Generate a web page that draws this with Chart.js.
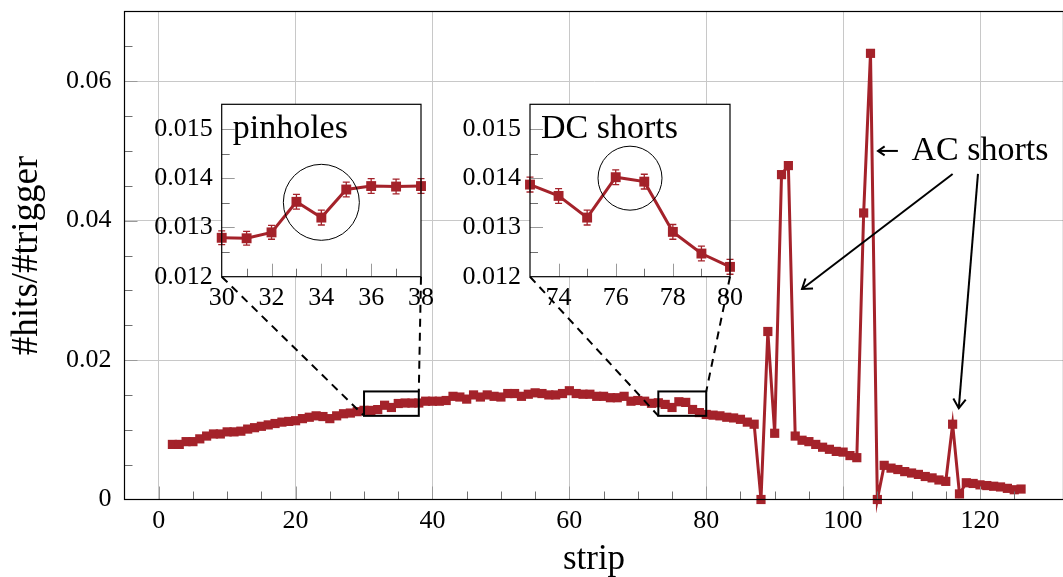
<!DOCTYPE html>
<html>
<head>
<meta charset="utf-8">
<script src="https://cdn.jsdelivr.net/npm/chart.js@4.4.1/dist/chart.umd.min.js"></script>
<style>
  html, body { margin: 0; padding: 0; background: #fff; overflow: hidden; }
  #wrap { position: relative; width: 1063px; height: 577px; overflow: hidden; }
  #wrap canvas { position: absolute; left: 0; top: 0; }
</style>
</head>
<body>
<div id="wrap">
  <canvas id="main" width="1070" height="577"></canvas>
  <canvas id="pin" width="1063" height="577"></canvas>
  <canvas id="dc" width="1063" height="577"></canvas>
</div>
<script>
// strip number and hit rate per trigger
const strips = [
  2, 3, 4, 5, 6, 7, 8, 9, 10, 11, 12, 13, 14, 15, 16, 17, 18, 19, 20, 21,
  22, 23, 24, 25, 26, 27, 28, 29, 30, 31, 32, 33, 34, 35, 36, 37, 38, 39, 40, 41,
  42, 43, 44, 45, 46, 47, 48, 49, 50, 51, 52, 53, 54, 55, 56, 57, 58, 59, 60, 61,
  62, 63, 64, 65, 66, 67, 68, 69, 70, 71, 72, 73, 74, 75, 76, 77, 78, 79, 80, 81,
  82, 83, 84, 85, 86, 87, 88, 89, 90, 91, 92, 93, 94, 95, 96, 97, 98, 99, 100, 101,
  102, 103, 104, 105, 106, 107, 108, 109, 110, 111, 112, 113, 114, 115, 116, 117, 118, 119, 120, 121,
  122, 123, 124, 125, 126
];
const hits = [
  0.0079, 0.0079, 0.0083, 0.0083, 0.0087, 0.0091, 0.0094, 0.0094, 0.0097, 0.0097,
  0.0098, 0.0101, 0.0103, 0.0105, 0.0107, 0.0109, 0.0111, 0.0112, 0.0113, 0.0116,
  0.0118, 0.0120, 0.0119, 0.0116, 0.0120, 0.0123, 0.0124, 0.0126, 0.01279, 0.01278,
  0.01290, 0.01352, 0.01320, 0.01377, 0.01384, 0.01383, 0.01384, 0.0141, 0.0141, 0.0141,
  0.0142, 0.0148, 0.0147, 0.0144, 0.0150, 0.0147, 0.0150, 0.0148, 0.0147, 0.0152,
  0.0152, 0.0148, 0.0151, 0.0153, 0.0152, 0.0150, 0.0150, 0.0152, 0.0156, 0.0152,
  0.0151, 0.0151, 0.0148, 0.0148, 0.0146, 0.0146, 0.0148, 0.0141, 0.0142, 0.0141,
  0.0138, 0.01387, 0.01364, 0.01320, 0.01402, 0.01393, 0.01291, 0.01247, 0.01220, 0.0121,
  0.0120, 0.0118, 0.0117, 0.0115, 0.0111, 0.0108, 0, 0.0241, 0.0095, 0.0466,
  0.0479, 0.0091, 0.0085, 0.0083, 0.0079, 0.0075, 0.0072, 0.0069, 0.0068, 0.0063,
  0.0060, 0.0411, 0.0640, 0, 0.0049, 0.0045, 0.0043, 0.0040, 0.0038, 0.0036,
  0.0033, 0.0031, 0.0028, 0.0026, 0.0108, 0.0008, 0.0024, 0.0023, 0.0021, 0.0020,
  0.0019, 0.0018, 0.0016, 0.0014, 0.0015
];

// labelled ticks
const xTicksMain = [0, 20, 40, 60, 80, 100, 120];
const yTicksMain = [0, 0.02, 0.04, 0.06];
const yTicksInset = [0.012, 0.013, 0.014, 0.015];
const xTicksPin = [30, 32, 34, 36, 38];
const xTicksDC = [74, 76, 78, 80];

// zoomed ranges
const pinRangeX = [30, 38];
const dcRangeX = [73, 80];
const zoomRangeY = [0.012, 0.0155];

// error bars seen in the insets
const pinErr = [0.00014, 0.00014, 0.00014, 0.00015, 0.00015, 0.00015, 0.00015, 0.00015, 0.00015];
const dcErr = [0.00015, 0.00015, 0.00015, 0.00015, 0.00015, 0.00015, 0.00015, 0.00015];

// annotations
const pinCircle = { x: 34, y: 0.01351, r: 38 };
const dcCircle = { x: 76.5, y: 0.0140, r: 32 };
const acLabel = { x: 110, y: 0.05, text: 'AC shorts' };
const acSmallArrow = [108, 0.05, 105.1, 0.05];
const acArrows = [
  [116, 0.0467, 94, 0.0302],
  [119.7, 0.0467, 116.9, 0.0131]
];

const RED = '#a4222a';
const GRID = '#c8c8c8';
const FONT = "'Liberation Serif', 'Times New Roman', serif";

function isMajor(list, v) {
  return list.some(m => Math.abs(m - v) < 1e-9);
}

function drawArrow(ctx, x1, y1, x2, y2, head) {
  const ang = Math.atan2(y2 - y1, x2 - x1);
  ctx.beginPath();
  ctx.moveTo(x1, y1);
  ctx.lineTo(x2, y2);
  ctx.stroke();
  ctx.beginPath();
  ctx.moveTo(x2 - head * Math.cos(ang - 0.6), y2 - head * Math.sin(ang - 0.6));
  ctx.lineTo(x2, y2);
  ctx.lineTo(x2 - head * Math.cos(ang + 0.6), y2 - head * Math.sin(ang + 0.6));
  ctx.stroke();
}

// frame plus inward tick marks (major grey, minor dark)
function drawFrame(chart, xMajors, yMajors) {
  const { ctx, chartArea: a, scales: { x, y } } = chart;
  ctx.save();
  ctx.lineWidth = 1;
  x.ticks.forEach(t => {
    const px = Math.round(x.getPixelForValue(t.value)) + 0.5;
    if (px <= a.left + 1 || px >= a.right - 1) return;
    const major = isMajor(xMajors, t.value);
    ctx.strokeStyle = major ? '#9a9a9a' : '#707070';
    ctx.beginPath();
    ctx.moveTo(px, a.bottom);
    ctx.lineTo(px, a.bottom - (major ? 13 : 8));
    ctx.stroke();
  });
  y.ticks.forEach(t => {
    const py = Math.round(y.getPixelForValue(t.value)) + 0.5;
    if (py <= a.top + 1 || py >= a.bottom - 1) return;
    const major = isMajor(yMajors, t.value);
    ctx.strokeStyle = major ? '#9a9a9a' : '#707070';
    ctx.beginPath();
    ctx.moveTo(a.left, py);
    ctx.lineTo(a.left + (major ? 13 : 8), py);
    ctx.stroke();
  });
  ctx.strokeStyle = '#000';
  ctx.lineWidth = 1.2;
  ctx.strokeRect(a.left, a.top, a.right - a.left, a.bottom - a.top);
  ctx.restore();
}

const mainDecor = {
  id: 'mainDecor',
  afterDatasetsDraw(chart) {
    const { ctx, scales: { x, y } } = chart;
    ctx.save();
    // zoom boxes
    ctx.strokeStyle = '#000';
    ctx.lineWidth = 2;
    [pinRangeX, dcRangeX].forEach(r => {
      const x1 = x.getPixelForValue(r[0]), x2 = x.getPixelForValue(r[1]);
      const y1 = y.getPixelForValue(zoomRangeY[1]), y2 = y.getPixelForValue(zoomRangeY[0]);
      ctx.strokeRect(x1, y1, x2 - x1, y2 - y1);
    });
    // AC shorts
    ctx.lineWidth = 2;
    acArrows.forEach(a => drawArrow(ctx, x.getPixelForValue(a[0]), y.getPixelForValue(a[1]),
      x.getPixelForValue(a[2]), y.getPixelForValue(a[3]), 11));
    drawArrow(ctx, x.getPixelForValue(acSmallArrow[0]), y.getPixelForValue(acSmallArrow[1]),
      x.getPixelForValue(acSmallArrow[2]), y.getPixelForValue(acSmallArrow[3]), 8);
    ctx.fillStyle = '#000';
    ctx.font = '34px ' + FONT;
    ctx.textAlign = 'left';
    ctx.textBaseline = 'middle';
    ctx.fillText(acLabel.text, x.getPixelForValue(acLabel.x), y.getPixelForValue(acLabel.y));
    ctx.restore();
  },
  afterDraw(chart) {
    drawFrame(chart, xTicksMain, yTicksMain);
  }
};

const mainChart = new Chart(document.getElementById('main'), {
  type: 'line',
  data: {
    datasets: [{
      data: strips.map((s, i) => ({ x: s, y: hits[i] })),
      borderColor: RED,
      backgroundColor: RED,
      borderWidth: 3,
      pointStyle: 'rect',
      pointRadius: 6.5,
      pointHoverRadius: 6.5,
      pointBorderWidth: 0,
      tension: 0,
      clip: false
    }]
  },
  options: {
    responsive: false,
    animation: false,
    events: [],
    layout: { padding: { left: 0, top: 11.5, right: 6, bottom: 0 } },
    plugins: { legend: { display: false }, tooltip: { enabled: false } },
    scales: {
      x: {
        type: 'linear', min: -5, max: 132.2,
        afterBuildTicks: s => { s.ticks = s.ticks.filter(t => t.value >= 0 && t.value % 5 === 0); },
        afterFit: s => { s.height = 77.5; s.paddingLeft = 0; s.paddingRight = 0; },
        ticks: {
          stepSize: 5, autoSkip: false, maxRotation: 0, padding: 6, color: '#000',
          font: { family: FONT, size: 26 },
          callback: v => isMajor(xTicksMain, v) ? String(v) : ''
        },
        grid: { drawTicks: false, lineWidth: 1, color: c => isMajor(xTicksMain, c.tick.value) ? GRID : 'rgba(0,0,0,0)' },
        border: { display: false },
        title: { display: true, text: 'strip', color: '#000', font: { family: FONT, size: 35 }, padding: { top: 0, bottom: -4 } }
      },
      y: {
        type: 'linear', min: 0, max: 0.07,
        afterFit: s => { s.width = 124.5; s.paddingTop = 0; s.paddingBottom = 0; },
        ticks: {
          stepSize: 0.005, autoSkip: false, padding: 13, color: '#000',
          font: { family: FONT, size: 26 },
          callback: v => isMajor(yTicksMain, v) ? (v === 0 ? '0' : v.toFixed(2)) : ''
        },
        grid: { drawTicks: false, lineWidth: 1, color: c => isMajor(yTicksMain, c.tick.value) ? GRID : 'rgba(0,0,0,0)' },
        border: { display: false },
        title: { display: true, text: '#hits/#trigger', color: '#000', font: { family: FONT, size: 37 }, padding: { top: 5, bottom: 0 } }
      }
    }
  },
  plugins: [mainDecor]
});

function makeInset(id, rangeX, xMajors, err, circle, label, left, right) {
  const pts = [];
  strips.forEach((s, i) => { if (s >= rangeX[0] && s <= rangeX[1]) pts.push({ x: s, y: hits[i] }); });
  const yW = 90, xH = 40, top = 104.3, bottom = 276.7;

  const decor = {
    id: 'insetDecor',
    beforeDraw(chart) {
      const { ctx, chartArea: a } = chart;
      ctx.save();
      ctx.fillStyle = '#fff';
      ctx.fillRect(a.left, a.top, a.right - a.left, a.bottom - a.top);
      ctx.restore();
    },
    afterDatasetsDraw(chart) {
      const { ctx, scales: { x, y } } = chart;
      ctx.save();
      ctx.strokeStyle = RED;
      ctx.lineWidth = 1.3;
      pts.forEach((p, i) => {
        const px = x.getPixelForValue(p.x);
        const y1 = y.getPixelForValue(p.y - err[i]), y2 = y.getPixelForValue(p.y + err[i]);
        ctx.beginPath();
        ctx.moveTo(px, y1); ctx.lineTo(px, y2);
        ctx.moveTo(px - 3.5, y1); ctx.lineTo(px + 3.5, y1);
        ctx.moveTo(px - 3.5, y2); ctx.lineTo(px + 3.5, y2);
        ctx.stroke();
      });
      ctx.restore();
    },
    afterDraw(chart) {
      const { ctx, chartArea: a, scales: { x, y } } = chart;
      drawFrame(chart, xMajors, yTicksInset);
      ctx.save();
      // circle marking the feature
      ctx.strokeStyle = '#000';
      ctx.lineWidth = 1;
      ctx.beginPath();
      ctx.arc(x.getPixelForValue(circle.x), y.getPixelForValue(circle.y), circle.r, 0, Math.PI * 2);
      ctx.stroke();
      // title
      ctx.fillStyle = '#000';
      ctx.font = '34px ' + FONT;
      ctx.textAlign = 'left';
      ctx.textBaseline = 'middle';
      ctx.fillText(label, a.left + 11, a.top + 25);
      // dashed connectors to the zoom box
      const mx = mainChart.scales.x, my = mainChart.scales.y;
      ctx.lineWidth = 2;
      ctx.setLineDash([8, 6]);
      ctx.beginPath();
      ctx.moveTo(a.left, a.bottom);
      ctx.lineTo(mx.getPixelForValue(rangeX[0]), my.getPixelForValue(zoomRangeY[0]));
      ctx.moveTo(a.right, a.bottom);
      ctx.lineTo(mx.getPixelForValue(rangeX[1]), my.getPixelForValue(zoomRangeY[1]));
      ctx.stroke();
      ctx.restore();
    }
  };

  return new Chart(document.getElementById(id), {
    type: 'line',
    data: {
      datasets: [{
        data: pts,
        borderColor: RED,
        backgroundColor: RED,
        borderWidth: 3,
        pointStyle: 'rect',
        pointRadius: 7,
        pointHoverRadius: 7,
        pointBorderWidth: 0,
        tension: 0,
        clip: false
      }]
    },
    options: {
      responsive: false,
      animation: false,
      events: [],
      layout: { padding: { left: left - yW, top: top, right: 1063 - right, bottom: 577 - bottom - xH } },
      plugins: { legend: { display: false }, tooltip: { enabled: false } },
      scales: {
        x: {
          type: 'linear', min: rangeX[0], max: rangeX[1],
          afterFit: s => { s.height = xH; s.paddingLeft = 0; s.paddingRight = 0; },
          ticks: {
            stepSize: 1, autoSkip: false, maxRotation: 0, padding: 6, color: '#000',
            font: { family: FONT, size: 26 },
            callback: v => isMajor(xMajors, v) ? String(v) : ''
          },
          grid: { display: false, drawTicks: false },
          border: { display: false }
        },
        y: {
          type: 'linear', min: zoomRangeY[0], max: zoomRangeY[1],
          afterFit: s => { s.width = yW; s.paddingTop = 0; s.paddingBottom = 0; },
          ticks: {
            stepSize: 0.0005, autoSkip: false, padding: 9, color: '#000',
            font: { family: FONT, size: 26 },
            callback: v => isMajor(yTicksInset, v) ? v.toFixed(3) : ''
          },
          grid: { display: false, drawTicks: false },
          border: { display: false }
        }
      }
    },
    plugins: [decor]
  });
}

makeInset('pin', pinRangeX, xTicksPin, pinErr, pinCircle, 'pinholes', 221.7, 421);
makeInset('dc', dcRangeX, xTicksDC, dcErr, dcCircle, 'DC shorts', 530, 730);
</script>
</body>
</html>
